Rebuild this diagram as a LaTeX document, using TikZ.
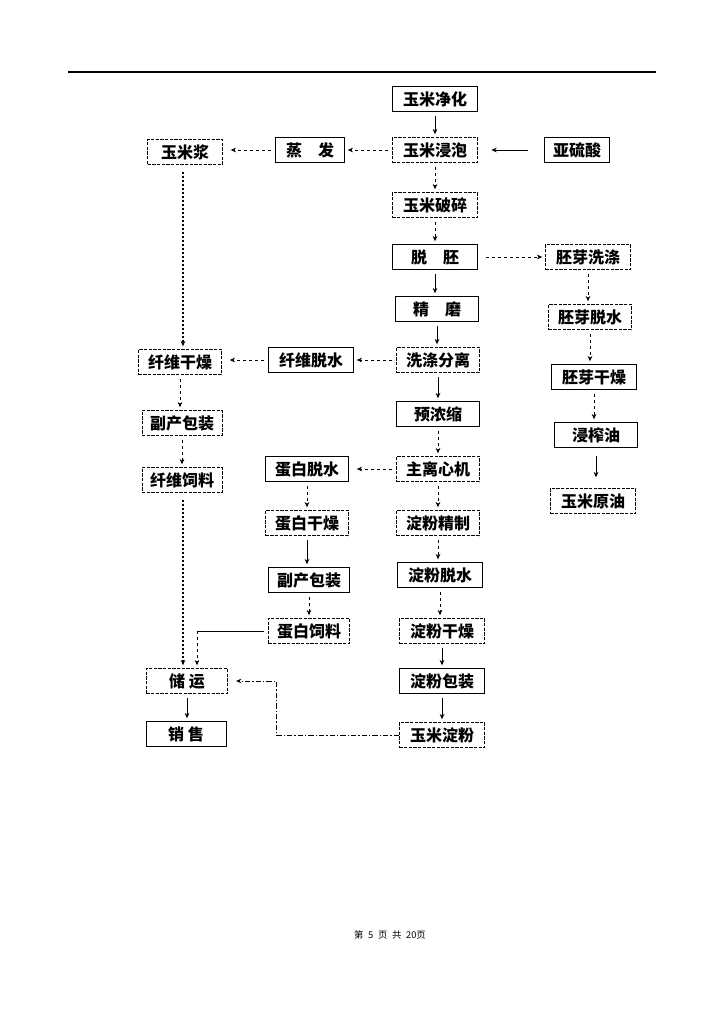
\documentclass[tikz,border=0pt]{standalone}
\usepackage{fontspec}
\setmainfont{Noto Sans CJK SC}
\usetikzlibrary{arrows.meta}

\tikzset{
  pbox/.style={draw, line width=0.6pt, minimum width=64pt, minimum height=19pt,
    inner sep=1pt, font=\fontsize{12}{12}\selectfont\bfseries},
  dbox/.style={pbox, dash pattern=on 2.5pt off 1pt},
  flow/.style={-{Stealth[length=4pt,width=3.5pt]}, line width=0.6pt,
    shorten <=3pt, shorten >=2pt},
  dflow/.style={flow, dash pattern=on 2.5pt off 2pt},
  pflow/.style={flow, line width=1.1pt, dash pattern=on 1.5pt off 1.5pt},
  cflow/.style={flow, dash pattern=on 4pt off 1.5pt on 1pt off 1.5pt}
}
% vertical and horizontal connectors
\newcommand{\vlink}[3][flow]{\draw[#1] (#2.south) -- (#2.south |- #3.north);}
\newcommand{\hlink}[3][flow]{\draw[#1] (#2.west) -- (#2.west -| #3.east);}

\begin{document}
\begin{tikzpicture}[x=0.75pt, y=-0.75pt]
    \useasboundingbox (0,0) rectangle (724,1024);
    \draw[line width=0.8pt] (68,72) -- (656,72);

    % main line
    \node[pbox] (jinghua) at (435,99) {玉米净化};
    \node[dbox] (jinpao) at (435,150) {玉米浸泡};
    \node[pbox, minimum width=49pt] (yaliusuan) at (577,150) {亚硫酸};
    \node[pbox, minimum width=52pt] (zhengfa) at (310,150) {蒸\quad 发};
    \node[dbox, minimum width=56pt] (mijiang) at (185,152) {玉米浆};
    \node[dbox] (posui) at (435,205) {玉米破碎};
    \node[pbox] (tuopei) at (435,257) {脱\quad 胚};
    \node[dbox] (peixi) at (588,257) {胚芽洗涤};
    \node[pbox, minimum width=62pt] (jingmo) at (437,309) {精\quad 磨};
    \node[dbox, minimum width=62pt] (xidi) at (438,360) {洗涤分离};
    \node[pbox, minimum width=62pt] (yunong) at (438,414) {预浓缩};
    \node[dbox, minimum width=62pt] (lixin) at (438,469) {主离心机};
    \node[dbox, minimum width=62pt] (jingzhi) at (438,523) {淀粉精制};
    \node[pbox] (diantuo) at (440,575) {淀粉脱水};
    \node[dbox] (diangan) at (442,631) {淀粉干燥};
    \node[pbox] (dianbao) at (442,681) {淀粉包装};
    \node[dbox] (dianfen) at (442,735) {玉米淀粉};

    % germ line
    \node[dbox, minimum width=62pt] (peituo) at (590,317) {胚芽脱水};
    \node[pbox] (peigan) at (594,377) {胚芽干燥};
    \node[pbox, minimum width=62pt] (jinzha) at (596,435) {浸榨油};
    \node[dbox] (yuanyou) at (593,501) {玉米原油};

    % fibre line
    \node[pbox] (xiantuo) at (311,360) {纤维脱水};
    \node[dbox, minimum width=62pt] (xiangan) at (180,362) {纤维干燥};
    \node[dbox, minimum width=60pt] (fubaoa) at (182,423) {副产包装};
    \node[dbox, minimum width=60pt] (xiansi) at (182,480) {纤维饲料};

    % protein line
    \node[pbox, minimum width=62pt] (dantuo) at (307,469) {蛋白脱水};
    \node[dbox, minimum width=62pt] (dangan) at (307,523) {蛋白干燥};
    \node[pbox, minimum width=61pt] (fubaob) at (309,580) {副产包装};
    \node[dbox, minimum width=61pt] (dansi) at (309,631) {蛋白饲料};

    \node[dbox, minimum width=61pt] (chuyun) at (187,681) {储\ 运};
    \node[pbox, minimum width=60pt] (xiaoshou) at (186,734) {销\ 售};

    \coordinate (zhuan) at (197,631);
    \coordinate (guai1) at (276,735);
    \coordinate (guai2) at (276,681);

    % connectors
    \vlink{jinghua}{jinpao}
    \hlink[flow, shorten <=12pt, shorten >=10pt]{yaliusuan}{jinpao}
    \hlink[dflow]{jinpao}{zhengfa}
    \hlink[dflow, shorten >=6pt]{zhengfa}{mijiang}
    \draw[pflow, shorten <=5pt] (mijiang.south -| 183,0) -- (xiangan.north -| 183,0);
    \vlink[dflow]{jinpao}{posui}
    \vlink[dflow]{posui}{tuopei}
    \draw[dflow, shorten <=6pt] (tuopei.east) -- (tuopei.east -| peixi.west);
    \vlink{tuopei}{jingmo}
    \vlink[dflow]{peixi}{peituo}
    \vlink[dflow]{peituo}{peigan}
    \vlink[dflow]{peigan}{jinzha}
    \vlink[flow, shorten <=6pt, shorten >=8pt]{jinzha}{yuanyou}
    \vlink{jingmo}{xidi}
    \hlink[dflow]{xidi}{xiantuo}
    \hlink[dflow, shorten >=6pt]{xiantuo}{xiangan}
    \vlink[dflow]{xiangan}{fubaoa}
    \vlink[dflow]{fubaoa}{xiansi}
    \draw[pflow, shorten <=5pt] (xiansi.south -| 183,0) -- (chuyun.north -| 183,0);
    \vlink{xidi}{yunong}
    \vlink[dflow]{yunong}{lixin}
    \hlink[dflow, shorten >=6pt]{lixin}{dantuo}
    \vlink[dflow]{lixin}{jingzhi}
    \vlink[dflow]{jingzhi}{diantuo}
    \vlink[dflow]{diantuo}{diangan}
    \vlink{diangan}{dianbao}
    \vlink{dianbao}{dianfen}
    \vlink[dflow]{dantuo}{dangan}
    \vlink{dangan}{fubaob}
    \vlink[dflow]{fubaob}{dansi}
    \draw[line width=0.6pt, shorten <=3pt] (dansi.west) -- (zhuan);
    \draw[dflow, shorten <=0pt] (zhuan) -- (zhuan |- chuyun.north);
    \draw[cflow, shorten <=0pt, shorten >=6pt] (dianfen.west) -- (guai1) -- (guai2) -- (chuyun.east);
    \vlink{chuyun}{xiaoshou}

    \node[font=\fontsize{7}{7}\selectfont] (yema) at (390,935) {第\enspace 5\enspace 页\enspace 共\enspace 20页};
\end{tikzpicture}
\end{document}
